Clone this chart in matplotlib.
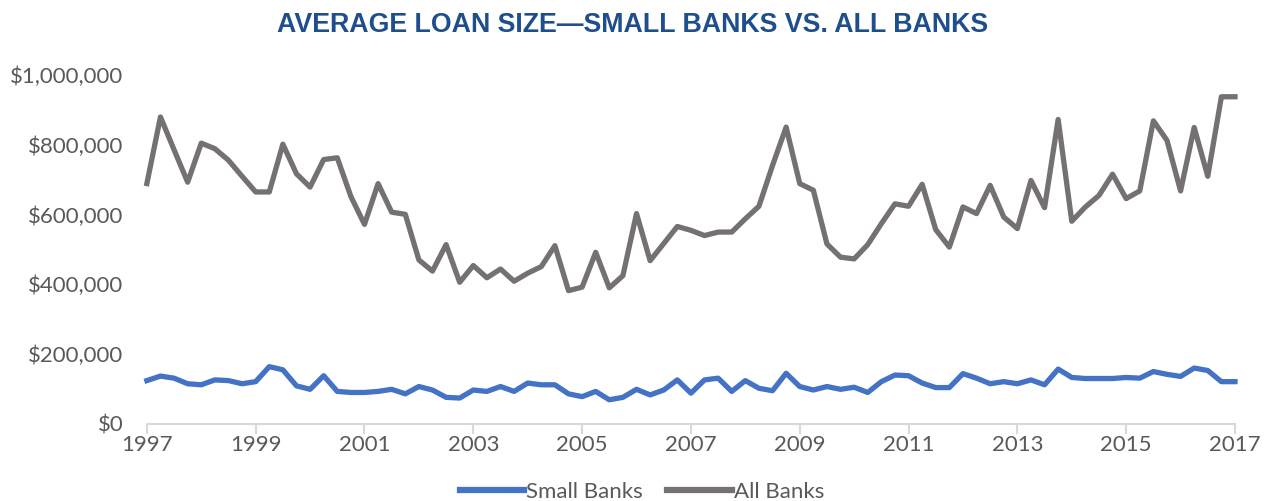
import numpy as np
import matplotlib.pyplot as plt
from matplotlib.ticker import FuncFormatter

# quarterly averages, 1997 Q1 .. 2017 Q1 (thousands of dollars)
all_banks = [689, 880, 786, 693, 805, 789, 756, 710, 665, 665,
             802, 717, 679, 758, 763, 652, 572, 689, 607, 601,
             470, 438, 514, 406, 454, 419, 444, 409, 432, 451,
             511, 382, 392, 492, 390, 425, 603, 468, 517, 566,
             555, 540, 550, 550, 588, 624, 741, 851, 689, 670,
             516, 478, 473, 514, 574, 631, 624, 687, 557, 507,
             622, 603, 684, 593, 560, 698, 620, 873, 581, 622,
             655, 716, 646, 668, 869, 813, 668, 850, 710, 938,
             938]
small_banks = [124, 137, 131, 115, 112, 126, 124, 115, 121, 164,
               155, 109, 99, 138, 93, 90, 90, 93, 99, 86,
               107, 97, 76, 74, 97, 93, 107, 93, 117, 112,
               112, 86, 78, 93, 69, 76, 99, 83, 97, 126,
               88, 126, 131, 93, 124, 102, 95, 145, 107, 97,
               107, 99, 105, 90, 121, 140, 138, 117, 104, 104,
               144, 131, 115, 121, 115, 126, 112, 157, 133, 130,
               130, 130, 133, 131, 150, 142, 136, 160, 153, 121,
               121]
years = [1997, 1999, 2001, 2003, 2005, 2007, 2009, 2011, 2013, 2015, 2017]

x = 1997 + np.arange(len(all_banks)) / 4
small = np.array(small_banks) * 1000
allb = np.array(all_banks) * 1000

fig = plt.figure(figsize=(12.66, 5.01), dpi=100)
ax = fig.add_axes([0.116, 0.154, 0.8595, 0.696])

ax.plot(x, small, color='#4472C4', linewidth=3.8, label='Small Banks',
        solid_joinstyle='round', clip_on=False)
ax.plot(x, allb, color='#767171', linewidth=3.8, label='All Banks',
        solid_joinstyle='round', clip_on=False)

ax.set_xlim(1997, 2017)
ax.set_ylim(0, 1000000)
ax.set_xticks(years)
ax.set_xticklabels([str(y) for y in years])
ax.set_yticks(np.arange(0, 1000001, 200000))
ax.yaxis.set_major_formatter(FuncFormatter(lambda v, p: '${:,.0f}'.format(v)))

for s in ['top', 'right', 'left']:
    ax.spines[s].set_visible(False)
ax.spines['bottom'].set_color('#d9d9d9')
ax.spines['bottom'].set_linewidth(1.5)
ax.tick_params(axis='x', colors='#d9d9d9', length=7, width=1.5, labelcolor='#595959',
               labelsize=16, pad=1)
ax.tick_params(axis='y', length=0, labelcolor='#595959', labelsize=16, pad=17)
for lab in ax.get_xticklabels() + ax.get_yticklabels():
    lab.set_family('Lato')

fig.text(0.5, 0.951, 'AVERAGE LOAN SIZE\u2014SMALL BANKS VS. ALL BANKS',
         ha='center', va='center', fontsize=19.3, fontweight='bold',
         color='#1F4E8C', family='Liberation Sans')

leg = ax.legend(loc='upper center', bbox_to_anchor=(0.455, -0.11), ncol=2,
                frameon=False, handlelength=2.9, handletextpad=0.1,
                columnspacing=1.1, prop={'family': 'Lato', 'size': 16})
for t in leg.get_texts():
    t.set_color('#595959')
for h in leg.get_lines():
    h.set_linewidth(4.5)

fig.savefig('out.png', dpi=100)
